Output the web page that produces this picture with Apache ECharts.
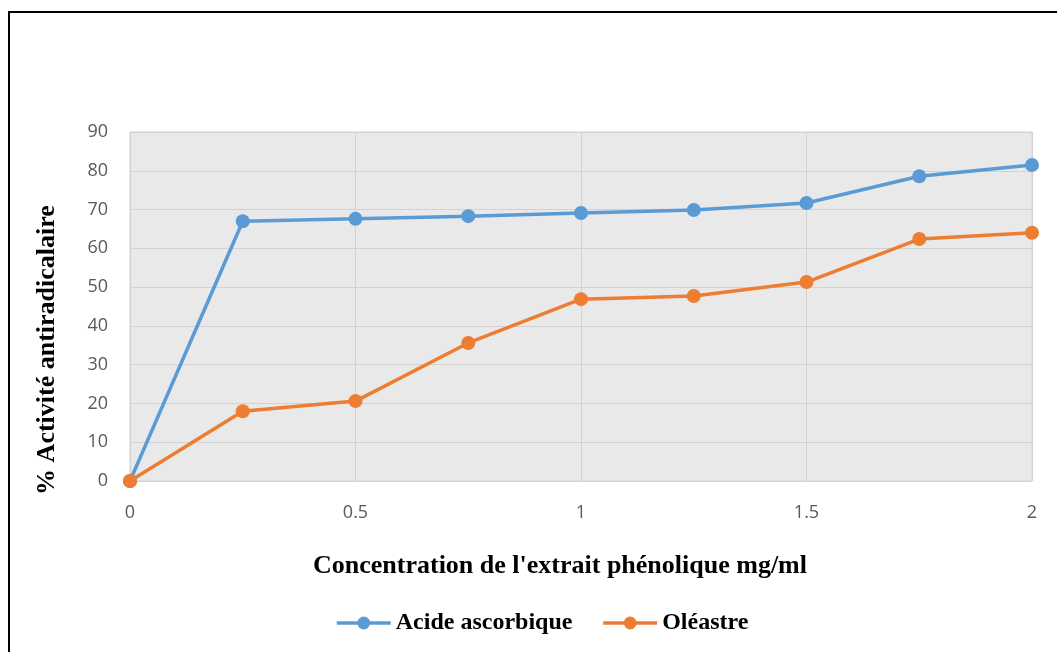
<!DOCTYPE html>
<html>
<head>
<meta charset="utf-8">
<script src="https://cdn.jsdelivr.net/npm/echarts@6/dist/echarts.min.js"></script>
<style>html,body{margin:0;padding:0;background:#fff;}#c{width:1057px;height:652px;}</style>
</head>
<body>
<div id="c"></div>
<script>
var concentrations = [0, 0.25, 0.5, 0.75, 1, 1.25, 1.5, 1.75, 2];
var acideAscorbique = [0, 67.0, 67.6, 68.3, 69.1, 69.9, 71.7, 78.6, 81.5];
var oleastre = [0, 18.0, 20.6, 35.6, 46.9, 47.7, 51.3, 62.4, 64.0];
var seriesNames = ['Acide ascorbique', 'Oléastre'];
var xTitle = "Concentration de l'extrait phénolique mg/ml";
var yTitle = '% Activité antiradicalaire';

function pairs(xs, ys) { return xs.map(function (x, i) { return [x, ys[i]]; }); }

var serif = 'Liberation Serif, Times New Roman, serif';
var chart = echarts.init(document.getElementById('c'), null, { renderer: 'canvas' });
var tickStyle = { color: '#595959', fontSize: 18, fontFamily: 'Open Sans, Liberation Sans, sans-serif' };
chart.setOption({
  animation: false,
  backgroundColor: '#ffffff',
  graphic: [{
    type: 'rect', z: 100, silent: true,
    shape: { x: 9, y: 12, width: 1100, height: 700 },
    style: { fill: 'none', stroke: '#000', lineWidth: 2 }
  }, {
    type: 'text', silent: true,
    x: 47, y: 350, rotation: Math.PI / 2,
    style: { text: yTitle, font: 'bold 26px ' + serif, fill: '#000', align: 'center', verticalAlign: 'middle' }
  }, {
    type: 'text', silent: true,
    x: 560, y: 566,
    style: { text: xTitle, font: 'bold 26px ' + serif, fill: '#000', align: 'center', verticalAlign: 'middle' }
  }],
  grid: {
    left: 130, right: 25, top: 132, bottom: 171,
    show: true, backgroundColor: '#e9e9e9', borderColor: '#d2d2d2', borderWidth: 1
  },
  legend: {
    top: 606, left: 330,
    itemWidth: 54, itemHeight: 16, itemGap: 29,
    lineStyle: { width: 3.5 },
    textStyle: { fontFamily: serif, fontWeight: 'bold', fontSize: 24, color: '#000' },
    data: seriesNames
  },
  xAxis: {
    type: 'value', min: 0, max: 2, interval: 0.5,
    axisLine: { show: false }, axisTick: { show: false },
    axisLabel: Object.assign({ margin: 23 }, tickStyle),
    splitLine: { show: true, lineStyle: { color: '#d2d2d2', width: 1 } }
  },
  yAxis: {
    type: 'value', min: 0, max: 90, interval: 10,
    axisLine: { show: false }, axisTick: { show: false },
    axisLabel: Object.assign({ margin: 22 }, tickStyle),
    splitLine: { show: true, lineStyle: { color: '#d2d2d2', width: 1 } }
  },
  series: [{
    name: seriesNames[0], type: 'line', data: pairs(concentrations, acideAscorbique),
    symbol: 'circle', symbolSize: 14,
    itemStyle: { color: '#5B9BD5' }, lineStyle: { color: '#5B9BD5', width: 3.5 }
  }, {
    name: seriesNames[1], type: 'line', data: pairs(concentrations, oleastre),
    symbol: 'circle', symbolSize: 14,
    itemStyle: { color: '#ED7D31' }, lineStyle: { color: '#ED7D31', width: 3.5 }
  }]
});
</script>
</body>
</html>
